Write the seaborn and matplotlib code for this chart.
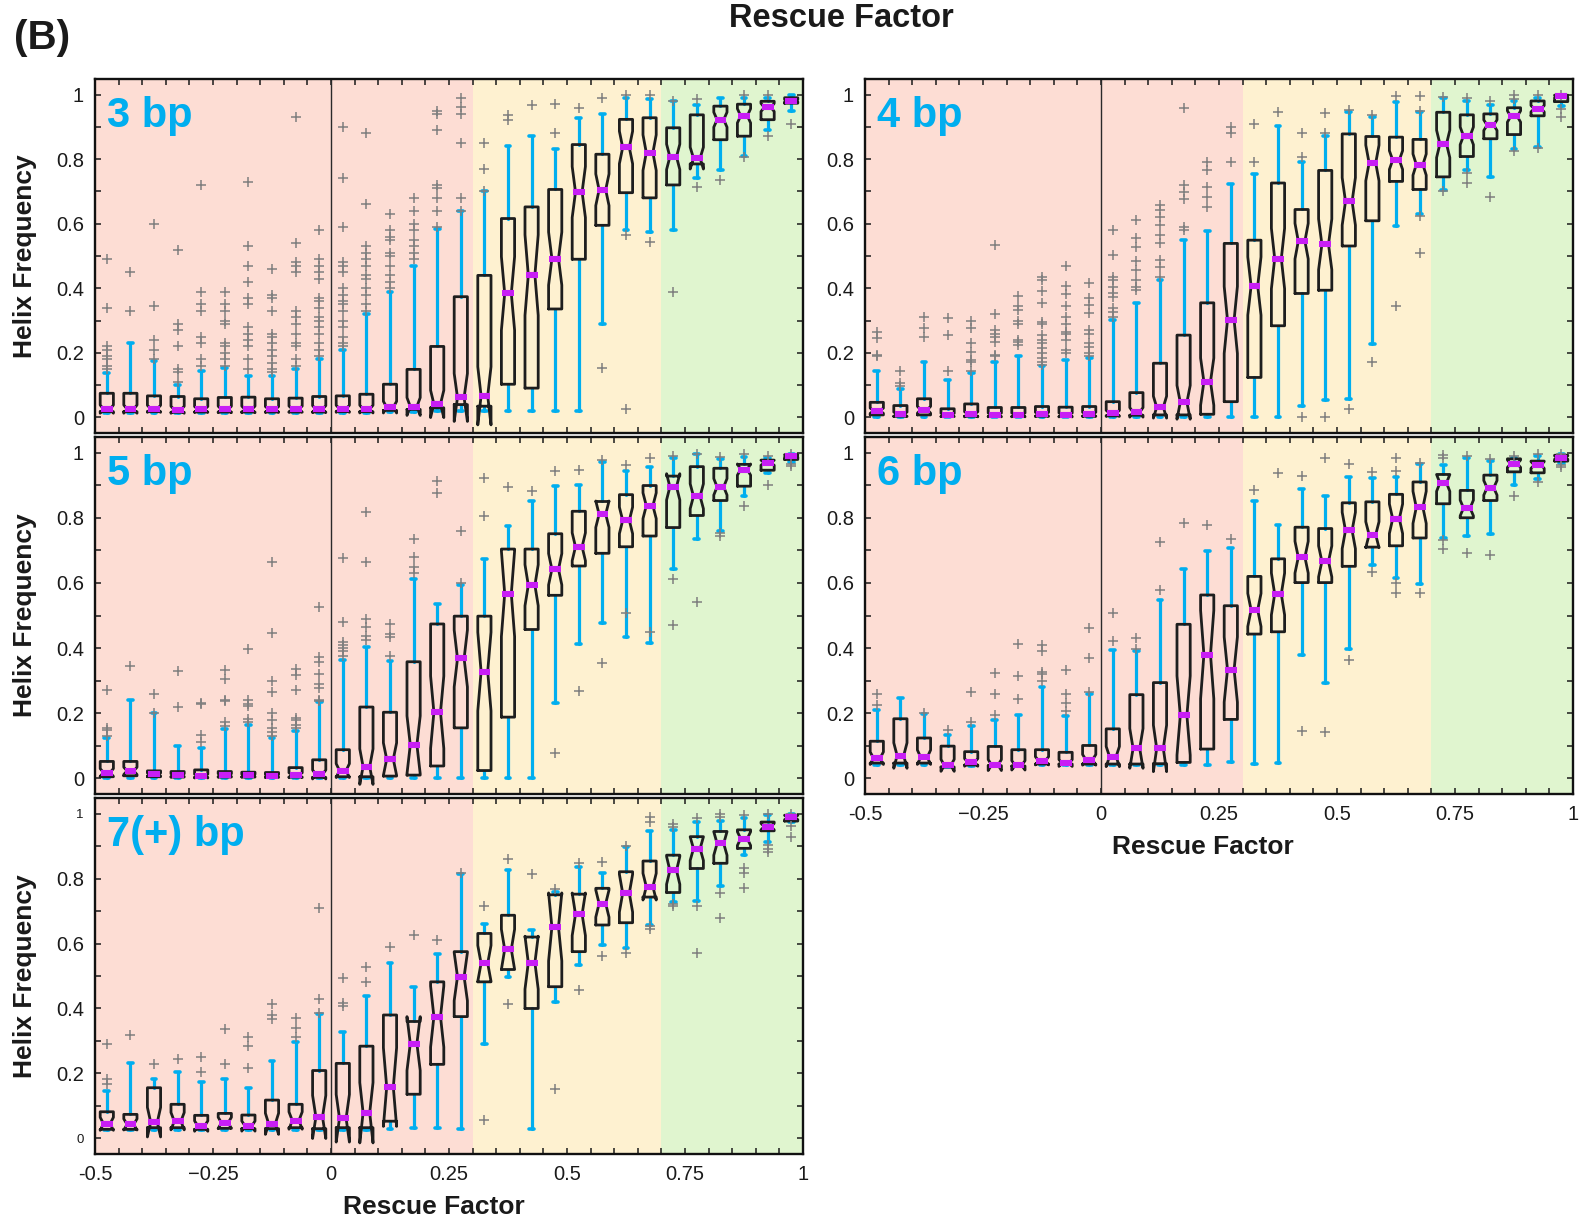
import numpy as np
import matplotlib
matplotlib.use("Agg")
import matplotlib.pyplot as plt
from matplotlib.ticker import MultipleLocator
import seaborn as sns

# ---------------- data ----------------
rescue_bins = [-0.475, -0.425, -0.375, -0.325, -0.275, -0.225, -0.175, -0.125, -0.075, -0.025,
               0.025, 0.075, 0.125, 0.175, 0.225, 0.275, 0.325, 0.375, 0.425, 0.475,
               0.525, 0.575, 0.625, 0.675, 0.725, 0.775, 0.825, 0.875, 0.925, 0.975]

panel_names = ["3 bp", "4 bp", "5 bp", "6 bp", "7(+) bp"]
notch_n = [50, 55, 38, 30, 18]   # sample size used for the notch (MATLAB style)

# ---- 3 bp ----
bp3_med = [.026, .026, .027, .024, .025, .025, .025, .025, .026, .026, .027, .026, .032, .034, .042, .062, .067, .384, .441, .492,
           .698, .705, .836, .82, .807, .803, .922, .934, .96, .981]
bp3_q1 = [.018, .018, .018, .016, .017, .017, .017, .017, .017, .017, .018, .018, .022, .025, .03, .04, .035, .103, .091, .336,
          .49, .595, .696, .68, .72, .785, .86, .871, .922, .973]
bp3_q3 = [.075, .075, .067, .065, .058, .062, .063, .058, .06, .065, .067, .072, .103, .149, .22, .374, .44, .616, .652, .706,
          .845, .815, .923, .928, .897, .937, .964, .97, .979, .99]
bp3_lo = [.015, .015, .015, .014, .015, .015, .015, .015, .015, .015, .015, .015, .018, .018, .02, .02, .02, .02, .02, .02,
          .02, .29, .58, .575, .58, .74, .765, .81, .89, .95]
bp3_hi = [.137, .23, .175, .10, .145, .152, .13, .13, .15, .18, .21, .32, .39, .47, .585, .64, .70, .84, .87, .83,
          .927, .94, .99, .987, .98, .968, .99, .99, .99, 1.0]
bp3_out = [[.49, .34, .22, .21, .19, .18, .16, .15], [.45, .33], [.60, .345, .24, .21, .18],
           [.52, .29, .27, .22, .15, .14, .11], [.72, .39, .35, .33, .25, .23, .18, .16],
           [.39, .35, .33, .30, .29, .23, .22, .20, .18, .16],
           [.73, .53, .47, .42, .37, .35, .28, .26, .24, .22, .18, .15],
           [.46, .38, .37, .33, .26, .25, .23, .21, .19, .17, .15, .14],
           [.93, .54, .48, .47, .45, .33, .31, .29, .26, .23, .22, .18, .16],
           [.58, .49, .47, .45, .43, .37, .36, .34, .31, .30, .28, .26, .23, .21, .19],
           [.90, .74, .59, .48, .47, .45, .40, .38, .36, .35, .33, .30, .28, .25, .23, .22],
           [.88, .66, .53, .51, .49, .47, .44, .43, .40, .38, .35, .33],
           [.63, .58, .56, .55, .51, .50, .47, .44, .42, .40],
           [.68, .64, .60, .58, .55, .53, .51, .49],
           [.95, .94, .89, .72, .71, .68, .64, .59], [.99, .96, .94, .85, .68, .64],
           [.85, .77, .70], [.935, .92], [.966], [.97, .88], [.958], [.99, .152], [.997, .564, .026],
           [.997, .544], [.98, .39], [.987, .714], [.734], [.997, .806], [.997, .873], [.91]]

# ---- 4 bp ----
bp4_med = [.021, .010, .024, .008, .010, .008, .008, .010, .008, .010, .013, .016, .032, .047, .111, .302, .407, .492, .546, .536,
           .669, .788, .797, .783, .847, .872, .905, .932, .956, .994]
bp4_q1 = [.008, .004, .008, .003, .004, .003, .003, .004, .003, .004, .005, .007, .008, .008, .01, .049, .124, .284, .384, .394,
          .531, .609, .731, .706, .745, .808, .863, .876, .934, .978]
bp4_q3 = [.047, .037, .058, .027, .042, .031, .031, .034, .032, .034, .049, .077, .168, .255, .355, .539, .549, .726, .644, .765,
          .878, .87, .868, .861, .945, .937, .94, .959, .98, .997]
bp4_lo = [0, 0, 0, 0, 0, 0, 0, 0, 0, 0, 0, 0, 0, 0, 0, 0, .003, 0, .036, .055,
          .057, .228, .593, .631, .705, .767, .745, .831, .837, .963]
bp4_hi = [.144, .088, .173, .116, .137, .173, .19, .158, .178, .183, .302, .355, .427, .551, .577, .722, .755, .904, .79, .87,
          .945, .93, .976, .945, .99, .98, .969, .98, .99, .999]
bp4_out = [[.264, .247, .194, .19], [.144, .106, .096], [.31, .276, .248], [.309, .255, .144],
           [.30, .278, .23, .204, .178, .172, .144], [.533, .32, .27, .26, .25, .235, .194, .19],
           [.376, .345, .333, .30, .29, .24, .235, .225],
           [.434, .425, .392, .355, .297, .29, .255, .24, .23, .214, .20, .183, .173, .163],
           [.47, .407, .381, .346, .31, .29, .264, .26, .24, .21, .20],
           [.415, .369, .348, .322, .27, .26, .23, .219, .20, .19],
           [.582, .503, .436, .425, .405, .384, .374, .338, .328, .312],
           [.61, .556, .528, .484, .456, .425, .405, .394],
           [.657, .641, .621, .595, .564, .539, .487, .466, .436],
           [.958, .719, .698, .678, .59, .58], [.79, .765, .714, .683, .652], [.90, .88, .79],
           [.909, .79], [.945], [.88, .806, .003], [.942, .88, .003], [.953, .026], [.937, .171],
           [.994, .345], [.994, .948, .624, .51], [.992, .70], [.99, .758, .726], [.981, .683],
           [.997, .985, .824], [.999, .835], [1.0, .956, .93]]

# ---- 5 bp ----
bp5_med = [.018, .023, .012, .010, .007, .010, .009, .008, .010, .012, .024, .036, .059, .103, .203, .368, .328, .567, .593, .642,
           .711, .811, .792, .837, .895, .866, .895, .948, .969, .99]
bp5_q1 = [.005, .008, .005, .004, .003, .004, .004, .003, .004, .003, .005, .005, .007, .01, .038, .155, .024, .188, .457, .562,
          .652, .691, .711, .744, .77, .807, .853, .897, .946, .979]
bp5_q3 = [.052, .052, .023, .021, .026, .021, .019, .018, .033, .057, .088, .219, .203, .358, .474, .498, .498, .704, .704, .751,
          .82, .85, .871, .899, .928, .957, .952, .964, .977, .993]
bp5_lo = [0, 0, 0, 0, 0, 0, 0, 0, 0, 0, 0, 0, 0, 0, 0, 0, 0, 0, 0, .23,
          .414, .477, .433, .415, .644, .735, .76, .866, .938, .972]
bp5_hi = [.124, .24, .20, .10, .093, .152, .165, .124, .144, .234, .364, .402, .361, .613, .536, .593, .672, .775, .85, .897,
          .902, .972, .943, .956, .985, .995, .979, .987, .985, .995]
bp5_out = [[.27, .155, .15, .129], [.345], [.258, .2], [.33, .219], [.232, .227, .134, .113],
           [.333, .306, .24, .236, .172, .162], [.397, .24, .227, .222, .182, .172],
           [.665, .446, .30, .266, .20, .18, .155, .141, .129], [.335, .316, .27, .186, .18, .165, .155],
           [.526, .373, .356, .32, .289, .278, .242, .238], [.677, .481, .42, .41, .40, .39, .375],
           [.818, .663, .49, .464, .436, .426], [.474, .443, .433, .376], [.735, .68, .65, .629],
           [.914, .876], [.76, .601], [.923, .804], [.895], [.881], [.943, .079], [.948, .268],
           [.976, .354], [.962, .508], [.985, .448], [.99, .611, .472], [.995, .541],
           [.987, .753, .745], [.995, .835], [.99, .902], [.995, .965, .96]]

# ---- 6 bp ----
bp6_med = [.062, .07, .065, .04, .049, .041, .040, .054, .047, .057, .067, .092, .092, .193, .38, .334, .517, .566, .679, .666,
           .761, .748, .797, .832, .907, .83, .892, .966, .962, .985]
bp6_q1 = [.047, .047, .047, .035, .041, .039, .038, .044, .044, .044, .044, .044, .045, .049, .09, .181, .443, .45, .601, .601,
          .651, .71, .714, .738, .843, .80, .853, .941, .938, .974]
bp6_q3 = [.114, .183, .124, .099, .082, .098, .088, .088, .08, .101, .152, .257, .294, .473, .563, .53, .62, .674, .771, .767,
          .846, .849, .872, .91, .933, .884, .931, .981, .974, .992]
bp6_lo = [.04, .04, .04, .035, .038, .038, .037, .04, .04, .04, .04, .04, .04, .041, .041, .051, .044, .047, .38, .294,
          .396, .656, .615, .596, .738, .743, .75, .902, .918, .969]
bp6_hi = [.209, .247, .198, .134, .162, .178, .193, .28, .19, .26, .394, .39, .548, .642, .697, .707, .853, .779, .889, .866,
          .925, .923, .925, .964, .962, .985, .974, .985, .99, .997]
bp6_out = [[.258, .224], [], [.2], [.147], [.265, .173], [.325, .26, .195], [.412, .314, .245],
           [.409, .392, .327, .32, .30], [.334, .26, .231, .206], [.462, .368, .265], [.509, .421],
           [.43, .397], [.725, .577], [.784], [.779], [.736], [.884], [.937], [.928, .146], [.983, .142],
           [.964, .363], [.94, .635], [.985, .943, .6, .568], [.967, .568], [.993, .983, .733, .704],
           [.99, .692], [.98, .687], [.99, .868], [.997, .911], [.997, .962, .955]]

# ---- 7(+) bp ----
bp7_med = [.045, .043, .05, .053, .038, .048, .038, .045, .055, .066, .062, .079, .158, .292, .375, .498, .539, .582, .541, .651,
           .69, .723, .755, .775, .825, .892, .908, .923, .96, .988]
bp7_q1 = [.028, .028, .033, .033, .028, .031, .03, .03, .033, .03, .033, .033, .053, .136, .228, .375, .482, .52, .40, .467,
          .575, .657, .664, .743, .757, .831, .847, .893, .947, .977]
bp7_q3 = [.082, .074, .156, .105, .071, .077, .072, .118, .105, .209, .231, .284, .38, .36, .482, .575, .631, .687, .62, .75,
          .752, .77, .821, .854, .872, .929, .945, .95, .974, .995]
bp7_lo = [.025, .025, .025, .025, .025, .025, .025, .025, .025, .025, .025, .025, .028, .033, .033, .028, .292, .498, .03, .421,
          .534, .595, .587, .657, .728, .731, .777, .872, .914, .974]
bp7_hi = [.146, .233, .182, .205, .174, .182, .156, .238, .297, .384, .329, .438, .541, .467, .567, .813, .659, .825, .641, .76,
          .837, .818, .897, .945, .949, .974, .977, .986, .996, 1.0]
bp7_out = [[.29, .184, .169], [.318], [.228], [.246], [.25, .205], [.336, .228], [.313, .284, .218],
           [.413, .379, .369], [.372, .341, .313], [.71, .428, .387], [.493, .418, .408], [.528, .482],
           [.59], [.626], [.611], [.818], [.716, .056], [.859, .413], [.815], [.769, .153], [.849, .457],
           [.851, .562], [.90, .572], [.99, .974, .654, .644], [.967, .96, .723, .716], [.985, .716, .572],
           [.998, .99, .755, .68], [.995, .834, .818, .77], [1.0, .902, .892, .882], [1.0, .962, .929]]

x_tick_values = [-0.5, -0.25, 0, 0.25, 0.5, 0.75, 1]
x_tick_labels = ["-0.5", "\u22120.25", "0", "0.25", "0.5", "0.75", "1"]
y_tick_values = [0, 0.2, 0.4, 0.6, 0.8, 1]
y_tick_labels = ["0", "0.2", "0.4", "0.6", "0.8", "1"]

# ---------------- style ----------------
sns.set_style("ticks")
plt.rcParams['font.family'] = ['Liberation Sans', 'DejaVu Sans']

PINK = "#FDDDD4"
YELLOW = "#FEF1D0"
GREEN = "#E0F5CF"
CYAN = "#00AEEF"
MAGENTA = "#C81EF5"
GRAY = "#7F7F7F"
BOXC = "#1E1E1E"
TXT = "#1a1a1a"

W, H = 1584, 1221
fig = plt.figure(figsize=(W / 100, H / 100), dpi=100)


def rect(l, t, r, b):
    return [l / W, 1 - b / H, (r - l) / W, (b - t) / H]


axes_rects = [rect(95, 79, 803, 433), rect(865, 79, 1573, 433),
              rect(95, 437, 803, 794), rect(865, 437, 1573, 794),
              rect(95, 798, 803, 1154)]

panels = [(bp3_med, bp3_q1, bp3_q3, bp3_lo, bp3_hi, bp3_out),
          (bp4_med, bp4_q1, bp4_q3, bp4_lo, bp4_hi, bp4_out),
          (bp5_med, bp5_q1, bp5_q3, bp5_lo, bp5_hi, bp5_out),
          (bp6_med, bp6_q1, bp6_q3, bp6_lo, bp6_hi, bp6_out),
          (bp7_med, bp7_q1, bp7_q3, bp7_lo, bp7_hi, bp7_out)]

pos = np.array(rescue_bins)
for idx, (data, r) in enumerate(zip(panels, axes_rects)):
    med, q1, q3, lo, hi, outl = data
    ax = fig.add_axes(r)
    ax.axvspan(-0.5, 0.3, color=PINK, lw=0, zorder=0)
    ax.axvspan(0.3, 0.7, color=YELLOW, lw=0, zorder=0)
    ax.axvspan(0.7, 1.0, color=GREEN, lw=0, zorder=0)
    ax.axvline(0, color="#2a2a2a", lw=1.0, zorder=1)

    stats = []
    for i in range(len(rescue_bins)):
        h = 1.57 * (q3[i] - q1[i]) / np.sqrt(notch_n[idx])
        stats.append(dict(med=med[i], q1=q1[i], q3=q3[i], whislo=lo[i], whishi=hi[i],
                          cilo=med[i] - h, cihi=med[i] + h, fliers=[]))
    res = ax.bxp(stats, positions=rescue_bins, widths=0.028, capwidths=0.010,
                 shownotches=True, showfliers=False, manage_ticks=False,
                 boxprops=dict(color=BOXC, lw=2.0, zorder=3),
                 whiskerprops=dict(color=CYAN, lw=2.3, zorder=2),
                 capprops=dict(color=CYAN, lw=2.6, zorder=2),
                 medianprops=dict(color=MAGENTA, lw=0))
    for m in res['medians']:
        m.set_visible(False)

    ox = [rescue_bins[i] for i in range(len(outl)) for _ in outl[i]]
    oy = [v for lst in outl for v in lst]
    sns.scatterplot(x=ox, y=oy, marker="+", color=GRAY, s=50, linewidth=1.1,
                    ax=ax, zorder=4, legend=False)
    ax.hlines(med, pos - 0.0125, pos + 0.0125, color=MAGENTA, lw=4.4, zorder=5)

    ax.set_xlim(-0.5, 1.0)
    ax.set_ylim(-0.048, 1.048)
    ax.set_xticks(x_tick_values)
    ax.set_yticks(y_tick_values)
    ax.xaxis.set_minor_locator(MultipleLocator(0.05))
    ax.yaxis.set_minor_locator(MultipleLocator(0.1))
    ax.tick_params(which="both", direction="in", top=True, right=True,
                   length=4.5, width=1.1, colors=TXT, labelsize=14.5)
    ax.tick_params(axis="y", pad=8)
    ax.tick_params(axis="x", pad=8)
    ax.set_yticklabels(y_tick_labels)
    if idx in (3, 4):
        ax.set_xticklabels(x_tick_labels)
    else:
        ax.set_xticklabels([])
    if idx == 4:
        labs = ax.get_yticklabels()
        labs[0].set_fontsize(9.5)
        labs[-1].set_fontsize(9.5)
    for s in ax.spines.values():
        s.set_linewidth(1.7)
        s.set_color("#111111")
    ax.set_xlabel("")
    ax.set_ylabel("")
    ax.text(0.017, 0.952, panel_names[idx], transform=ax.transAxes, ha="left", va="top",
            fontsize=30, fontweight="bold", color=CYAN, zorder=6)
    if idx in (0, 2, 4):
        fig.text(0.016, r[1] + r[3] / 2, "Helix Frequency", rotation=90, ha="center",
                 va="center", fontsize=19, fontweight="bold", color=TXT)

fig.text(0.274, 0.0115, "Rescue Factor", ha="center", va="center", fontsize=19,
         fontweight="bold", color=TXT)
fig.text(0.7596, 0.306, "Rescue Factor", ha="center", va="center", fontsize=19,
         fontweight="bold", color=TXT)
fig.text(0.531, 0.985, "Rescue Factor", ha="center", va="center", fontsize=23.5,
         fontweight="bold", color=TXT)
fig.text(0.009, 0.969, "(B)", ha="left", va="center", fontsize=29,
         fontweight="bold", color=TXT)

fig.savefig("out.png", dpi=100)
